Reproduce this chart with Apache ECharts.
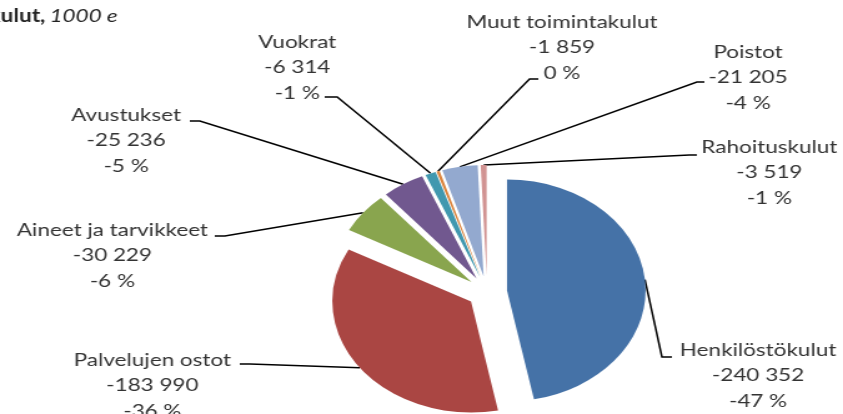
<!DOCTYPE html>
<html><head><meta charset="utf-8">
<script src="https://cdn.jsdelivr.net/npm/echarts@6/dist/echarts.min.js"></script>
<style>html,body{margin:0;padding:0;background:#fff;overflow:hidden}
#wrap{width:843px;height:414px;overflow:hidden;position:relative;background:#fff}
#chart{width:675px;height:414px;transform:scaleX(1.2489);transform-origin:0 0}
</style></head><body><div id="wrap"><div id="chart"></div></div>
<script>
const categories = ['Henkilöstökulut','Palvelujen ostot','Aineet ja tarvikkeet','Avustukset','Vuokrat','Muut toimintakulut','Poistot','Rahoituskulut'];
const values = [-240352,-183990,-30229,-25236,-6314,-1859,-21205,-3519];
const colors = ['#4572A7','#AA4643','#89A54E','#71588F','#4198AF','#DB843D','#93A9CF','#D19392'];
const titleMain = 'kulut,';
const titleUnit = '1000 e';

// label placement (layout only): centre x, first-line centre y, leader points near label
const labelPos = [
  {x:607, y:350, line:[[530,357],[538,357]]},
  {x:122, y:360, line:[[200,364],[192,364]]},
  {x:90,  y:230, line:[[180,236],[172,236]]},
  {x:101, y:115, line:[[160,121],[152,121]]},
  {x:238, y:42,  line:[[270,97],[260,97]]},
  {x:450, y:22,  line:[[424,79],[431,79]]},
  {x:599, y:52,  line:[[558,82],[564,82]]},
  {x:616, y:147, line:[[552,155],[558,155]]}
];
const LH = 25.5;
const CENTER = [390,292], R = 111, EXPLODE = 16;
const total = values.reduce((a,b)=>a+Math.abs(b),0);
function fmt(v){
  const s = String(Math.abs(v)).replace(/\B(?=(\d{3})+(?!\d))/g,' ');
  return (v<0?'-':'')+s;
}
function pct(v){
  const p = Math.round(Math.abs(v)/total*100);
  return p===0 ? '0 %' : (v<0?'-':'')+p+' %';
}
const chart = echarts.init(document.getElementById('chart'), null, {renderer:'canvas'});
chart.setOption({
  animation:false,
  graphic:[{
    type:'text', left:-9, top:7,
    style:{
      rich:{b:{fontFamily:'Lato',fontWeight:'bold',fontSize:18,fill:'#222'},
            i:{fontFamily:'Lato',fontStyle:'italic',fontSize:18,fill:'#222'}},
      text:'{b|'+titleMain+'} {i|'+titleUnit+'}'
    }
  }],
  series:[{
    type:'pie', name:'slices',
    center:CENTER, radius:[0,R],
    startAngle:90, clockwise:true,
    selectedMode:'multiple', selectedOffset:EXPLODE,
    emphasis:{disabled:true},
    itemStyle:{borderWidth:0},
    label:{show:false}, labelLine:{show:false},
    data: categories.map((n,i)=>({name:n, value:Math.abs(values[i]), selected:true, itemStyle:{color:colors[i]}}))
  },{
    type:'pie', name:'labels', silent:true,
    center:CENTER, radius:[0,R+EXPLODE],
    startAngle:90, clockwise:true,
    avoidLabelOverlap:false,
    emphasis:{disabled:true},
    itemStyle:{color:'rgba(0,0,0,0)', borderWidth:0},
    data: categories.map((n,i)=>({name:n, value:Math.abs(values[i])})),
    label:{
      show:true, color:'#333', fontFamily:'Lato', fontSize:18, lineHeight:LH, align:'center',
      formatter:(p)=> p.name+'\n'+fmt(values[p.dataIndex])+'\n'+pct(values[p.dataIndex])
    },
    labelLine:{show:true, lineStyle:{color:'#000', width:1.5}},
    labelLayout:(params)=>{
      const pos = labelPos[params.dataIndex];
      const p0 = params.labelLinePoints ? params.labelLinePoints[0] : pos.line[0];
      return {x:pos.x, y:pos.y-LH/2, align:'center', verticalAlign:'top',
              labelLinePoints:[p0, pos.line[0], pos.line[1]]};
    }
  }]
});
</script></body></html>
